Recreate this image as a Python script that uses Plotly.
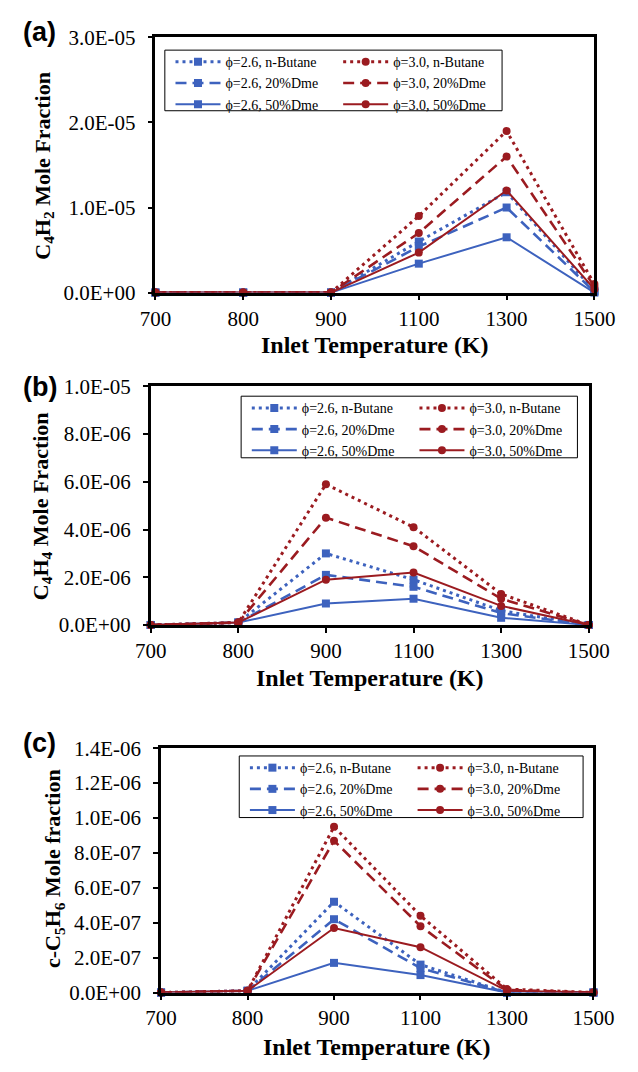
import plotly.graph_objects as go

# ---------------- data ----------------
temps = ["700", "800", "900", "1100", "1300", "1500"]
series_names = ["ϕ=2.6, n-Butane", "ϕ=2.6, 20%Dme", "ϕ=2.6, 50%Dme",
                "ϕ=3.0, n-Butane", "ϕ=3.0, 20%Dme", "ϕ=3.0, 50%Dme"]

# (a) C4H2
c4h2_p26_nbutane = [0, 0, 0, 6.0e-6, 1.18e-5, 2e-7]
c4h2_p26_dme20 = [0, 0, 0, 5.4e-6, 1.0e-5, 1e-7]
c4h2_p26_dme50 = [0, 0, 0, 3.4e-6, 6.5e-6, 0]
c4h2_p30_nbutane = [0, 0, 0, 9.0e-6, 1.9e-5, 1.0e-6]
c4h2_p30_dme20 = [0, 0, 0, 7.0e-6, 1.6e-5, 7e-7]
c4h2_p30_dme50 = [0, 0, 0, 4.7e-6, 1.2e-5, 4e-7]

# (b) C4H4
c4h4_p26_nbutane = [0, 1e-7, 3.0e-6, 1.9e-6, 6e-7, 0]
c4h4_p26_dme20 = [0, 1e-7, 2.1e-6, 1.6e-6, 5e-7, 0]
c4h4_p26_dme50 = [0, 1e-7, 9e-7, 1.1e-6, 3e-7, 0]
c4h4_p30_nbutane = [0, 1e-7, 5.9e-6, 4.1e-6, 1.3e-6, 0]
c4h4_p30_dme20 = [0, 1e-7, 4.5e-6, 3.3e-6, 1.1e-6, 0]
c4h4_p30_dme50 = [0, 1e-7, 1.9e-6, 2.2e-6, 8e-7, 0]

# (c) c-C5H6
c5h6_p26_nbutane = [0, 1e-8, 5.2e-7, 1.6e-7, 0, 0]
c5h6_p26_dme20 = [0, 1e-8, 4.2e-7, 1.4e-7, 0, 0]
c5h6_p26_dme50 = [0, 1e-8, 1.7e-7, 1.0e-7, 0, 0]
c5h6_p30_nbutane = [0, 1e-8, 9.5e-7, 4.4e-7, 2e-8, 0]
c5h6_p30_dme20 = [0, 1e-8, 8.7e-7, 3.8e-7, 1.5e-8, 0]
c5h6_p30_dme50 = [0, 1e-8, 3.7e-7, 2.6e-7, 1e-8, 0]

ytick_vals_a = [0, 1e-5, 2e-5, 3e-5]
ytick_text_a = ["0.0E+00", "1.0E-05", "2.0E-05", "3.0E-05"]
ytick_vals_b = [0, 2e-6, 4e-6, 6e-6, 8e-6, 1e-5]
ytick_text_b = ["0.0E+00", "2.0E-06", "4.0E-06", "6.0E-06", "8.0E-06", "1.0E-05"]
ytick_vals_c = [0, 2e-7, 4e-7, 6e-7, 8e-7, 1.0e-6, 1.2e-6, 1.4e-6]
ytick_text_c = ["0.0E+00", "2.0E-07", "4.0E-07", "6.0E-07", "8.0E-07",
                "1.0E-06", "1.2E-06", "1.4E-06"]

# ---------------- styling ----------------
W, H = 638, 1072
BLUE = "#3D62BE"
RED = "#9B1B20"
SERIF = "Liberation Serif"
colors = [BLUE, BLUE, BLUE, RED, RED, RED]
dashes = ["3px,4px", "11px,6px", "solid", "3px,4px", "11px,6px", "solid"]
widths = [3, 2.6, 2, 3, 2.6, 2]
symbols = ["square", "square", "square", "circle", "circle", "circle"]
legcol = [0, 0, 0, 1, 1, 1]


def px_x(p):
    return p / W


def px_y(p):
    return 1 - p / H


panels = [
    dict(data=[c4h2_p26_nbutane, c4h2_p26_dme20, c4h2_p26_dme50,
               c4h2_p30_nbutane, c4h2_p30_dme20, c4h2_p30_dme50],
         xdom=(148, 614), ydom=(26, 287), yr=3e-5,
         tv=ytick_vals_a, tt=ytick_text_a,
         box=(158, 39, 516, 101),
         ytitle="<b>C<sub>4</sub>H<sub>2</sub> Mole Fraction</b>",
         yt=(30, 157), xt=(381, 341), lab="(a)", labpos=(25, 20)),
    dict(data=[c4h4_p26_nbutane, c4h4_p26_dme20, c4h4_p26_dme50,
               c4h4_p30_nbutane, c4h4_p30_dme20, c4h4_p30_dme50],
         xdom=(143, 608), ydom=(383, 627), yr=1e-5,
         tv=ytick_vals_b, tt=ytick_text_b,
         box=(239, 393, 596, 456),
         ytitle="<b>C<sub>4</sub>H<sub>4</sub> Mole Fraction</b>",
         yt=(27, 505), xt=(376, 681), lab="(b)", labpos=(25, 384)),
    dict(data=[c5h6_p26_nbutane, c5h6_p26_dme20, c5h6_p26_dme50,
               c5h6_p30_nbutane, c5h6_p30_dme20, c5h6_p30_dme50],
         xdom=(154, 613), ydom=(753, 1003), yr=1.4e-6,
         tv=ytick_vals_c, tt=ytick_text_c,
         box=(237, 761, 602, 824),
         ytitle="<b>c-C<sub>5</sub>H<sub>6</sub> Mole fraction</b>",
         yt=(41, 876), xt=(383, 1059), lab="(c)", labpos=(25, 748)),
]

fig = go.Figure()
annotations = []
shapes = []
layout = {}
legcount = 0

for i, p in enumerate(panels):
    n = "" if i == 0 else str(i + 1)
    bx0, by0, bx1, by1 = p["box"]
    legnames = []
    for c in range(2):
        legcount += 1
        ln = "legend" if legcount == 1 else "legend" + str(legcount)
        legnames.append(ln)
        layout[ln] = dict(
            x=px_x(bx0 + 6 + c * 178), y=px_y(by0 - 4), xanchor="left", yanchor="top",
            orientation="v", itemwidth=45,
            font=dict(family=SERIF, size=14, color="black"),
            borderwidth=0, bgcolor="rgba(0,0,0,0)",
            tracegroupgap=0, traceorder="normal",
        )
    shapes.append(dict(type="rect", xref="paper", yref="paper",
                       x0=px_x(bx0), x1=px_x(bx1), y0=px_y(by1), y1=px_y(by0),
                       line=dict(color="black", width=1), fillcolor="white",
                       layer="below"))
    for k in range(6):
        fig.add_trace(go.Scatter(
            x=temps, y=p["data"][k], name=series_names[k],
            mode="lines+markers",
            line=dict(color=colors[k], width=widths[k], dash=dashes[k]),
            marker=dict(symbol=symbols[k], size=8, color=colors[k]),
            xaxis="x" + n, yaxis="y" + n, legend=legnames[legcol[k]],
            cliponaxis=False,
        ))
    layout["xaxis" + n] = dict(
        domain=[px_x(p["xdom"][0]), px_x(p["xdom"][1])], anchor="y" + n,
        type="category", range=[0, 5], showline=True, linecolor="black",
        linewidth=2.5, mirror=True, ticks="outside", ticklen=5, tickwidth=1.5,
        tickcolor="black", showgrid=False, zeroline=False,
        tickfont=dict(family=SERIF, size=21, color="black"),
        ticklabelstandoff=0,
    )
    layout["yaxis" + n] = dict(
        domain=[px_y(p["ydom"][1]), px_y(p["ydom"][0])], anchor="x" + n,
        range=[0, p["yr"]], tickvals=p["tv"], ticktext=p["tt"],
        showline=True, linecolor="black", linewidth=2.5, mirror=True,
        ticks="outside", ticklen=5, tickwidth=1.5, tickcolor="black",
        showgrid=False, zeroline=False,
        tickfont=dict(family=SERIF, size=21, color="black"),
        ticklabelstandoff=8,
    )
    annotations.append(dict(
        text=p["ytitle"], x=px_x(p["yt"][0]), y=px_y(p["yt"][1]),
        xref="paper", yref="paper", showarrow=False, textangle=-90,
        xanchor="center", yanchor="middle",
        font=dict(family=SERIF, size=22, color="black"),
    ))
    annotations.append(dict(
        text="<b>Inlet Temperature (K)</b>", x=px_x(p["xt"][0]), y=px_y(p["xt"][1]),
        xref="paper", yref="paper", showarrow=False,
        xanchor="center", yanchor="middle",
        font=dict(family=SERIF, size=24, color="black"),
    ))
    annotations.append(dict(
        text="<b>" + p["lab"] + "</b>", x=px_x(p["labpos"][0]), y=px_y(p["labpos"][1]),
        xref="paper", yref="paper", showarrow=False,
        xanchor="center", yanchor="middle",
        font=dict(family="Liberation Sans", size=27, color="black"),
    ))

fig.update_layout(
    width=W, height=H, margin=dict(l=0, r=0, t=0, b=0),
    paper_bgcolor="white", plot_bgcolor="white",
    annotations=annotations, shapes=shapes, showlegend=True, **layout,
)

fig.write_html("out.html")
